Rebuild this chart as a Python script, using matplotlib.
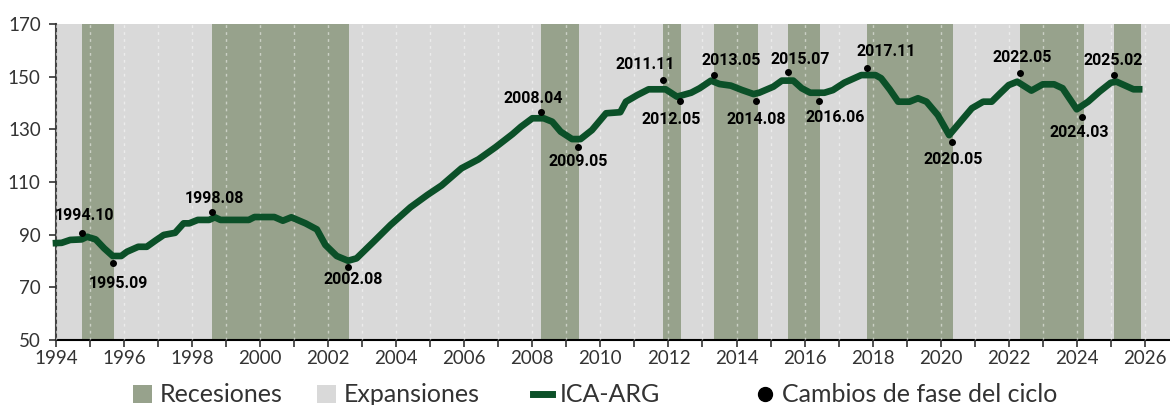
import numpy as np
import matplotlib.pyplot as plt
from matplotlib.patches import Patch
from matplotlib.lines import Line2D

# ICA-ARG (fecha AAAA-MM, nivel)
fechas = ["1994-01", "1994-03", "1994-06", "1994-10", "1994-12", "1995-03", "1995-06", "1995-09",
          "1995-12", "1996-02", "1996-06", "1996-09", "1996-12", "1997-03", "1997-07", "1997-10",
          "1997-12", "1998-03", "1998-07", "1998-09", "1998-11", "1999-06", "1999-09", "1999-11",
          "2000-06", "2000-09", "2000-12", "2001-05", "2001-09", "2001-12", "2002-04", "2002-08",
          "2002-11", "2003-05", "2003-11", "2004-06", "2004-12", "2005-05", "2005-12", "2006-06",
          "2006-12", "2007-06", "2007-09", "2008-01", "2008-05", "2008-08", "2008-11", "2009-03",
          "2009-06", "2009-10", "2010-03", "2010-08", "2010-10", "2011-02", "2011-06", "2011-12",
          "2012-04", "2012-09", "2012-12", "2013-04", "2013-07", "2013-11", "2014-03", "2014-07",
          "2014-09", "2015-02", "2015-05", "2015-09", "2015-12", "2016-03", "2016-08", "2016-11",
          "2017-03", "2017-09", "2018-02", "2018-04", "2018-07", "2018-10", "2019-02", "2019-05",
          "2019-08", "2019-12", "2020-04", "2020-09", "2020-12", "2021-04", "2021-07", "2021-10",
          "2022-01", "2022-04", "2022-09", "2023-01", "2023-05", "2023-08", "2023-10", "2024-01",
          "2024-05", "2024-09", "2025-01", "2025-03", "2025-09", "2025-11"]
ica = [86.8, 86.9, 88.0, 88.2, 89.2, 88.2, 84.8, 81.9,
       81.9, 83.5, 85.4, 85.4, 87.7, 89.9, 90.7, 94.3,
       94.3, 95.6, 95.6, 96.6, 95.6, 95.6, 95.6, 96.7,
       96.7, 95.3, 96.6, 94.3, 92.0, 86.1, 81.9, 80.1,
       81.0, 87.3, 93.7, 100.4, 105.1, 108.7, 115.2, 118.6,
       123.2, 128.2, 131.0, 134.2, 134.2, 132.9, 129.1, 126.3,
       126.3, 129.7, 136.1, 136.5, 140.5, 143.0, 145.2, 145.2,
       142.4, 143.9, 145.6, 148.5, 147.2, 146.6, 144.9, 143.4,
       143.9, 146.2, 148.5, 148.5, 145.6, 143.9, 143.9, 144.9,
       147.7, 150.6, 150.6, 149.4, 145.2, 140.5, 140.5, 141.8,
       140.5, 135.4, 127.8, 134.2, 138.0, 140.5, 140.5, 143.7,
       146.8, 148.1, 144.7, 147.1, 147.1, 145.6, 142.4, 137.6,
       140.5, 144.3, 147.7, 148.1, 145.2, 145.2]

# Cambios de fase del ciclo (picos y valles)
cambios = ["1994.10", "1995.09", "1998.08", "2002.08", "2008.04", "2009.05", "2011.11", "2012.05",
           "2013.05", "2014.08", "2015.07", "2016.06", "2017.11", "2020.05", "2022.05", "2024.03",
           "2025.02"]
nivel_cambio = [90.7, 79.3, 98.7, 77.8, 136.7, 123.4, 148.7, 140.8,
                150.6, 140.8, 151.9, 140.8, 153.2, 125.3, 151.5, 134.6,
                150.6]

# desplazamiento de cada etiqueta respecto del punto (px)
desp_etiqueta = [(3, 17), (6, -21), (2, 13), (5, -13), (-8, 13), (0, -15), (-18, 16), (-9, -19),
                 (17, 15), (0, -19), (13, 12), (16, -17), (19, 17), (1, -18), (2, 15), (-3, -15),
                 (0, 15)]

COL_REC = "#97a28c"
COL_EXP = "#d9d9d9"
COL_LINEA = "#0b5028"


def a_anio(s, sep):
    y, m = s.split(sep)
    return int(y) + (int(m) - 1) / 12


t = np.array([a_anio(f, "-") for f in fechas])
t_cambio = np.array([a_anio(c, ".") for c in cambios])

fig = plt.figure(figsize=(11.7, 4.05), dpi=100)
ax = fig.add_axes([56 / 1170, 1 - 340 / 405, 1 - 56 / 1170, 316 / 405])
ax.set_facecolor(COL_EXP)

# recesiones: de pico a valle; la última sigue abierta hasta el final de la serie
inicios = t_cambio[0::2]
finales = list(t_cambio[1::2] + 1 / 24) + [t[-1] + 1 / 24]
for a, b in zip(inicios, finales):
    ax.axvspan(a, b, color=COL_REC, lw=0, zorder=1)

ax.plot(t, ica, color=COL_LINEA, lw=4.8, solid_joinstyle="round", zorder=3, clip_on=False)
ax.plot(t_cambio, nivel_cambio, "o", color="black", ms=4, zorder=4)

for i, (tc, nv, txt) in enumerate(zip(t_cambio, nivel_cambio, cambios)):
    dx, dy = desp_etiqueta[i]
    ax.annotate(txt, (tc, nv), xytext=(dx, dy), textcoords="offset pixels",
                ha="center", va="center", fontsize=11.5, fontweight="bold",
                family="Roboto", color="black", zorder=5)

ax.set_xlim(1994, 2026.74)
ax.set_ylim(50, 170)
ax.set_yticks(np.arange(50, 171, 20))
ax.set_xticks(np.arange(1994, 2027, 2))
ax.set_xticks(np.arange(1994, 2027, 1), minor=True)
ax.grid(axis="x", which="both", color="white", alpha=0.5, ls=(0, (2, 3)), lw=1)
ax.set_axisbelow(False)

for s in ["top", "right"]:
    ax.spines[s].set_visible(False)
ax.spines["left"].set_color("#444444")
ax.spines["left"].set_linewidth(1.5)
ax.spines["bottom"].set_color("black")
ax.spines["bottom"].set_linewidth(1.5)
ax.tick_params(axis="both", which="both", direction="out", length=5, width=1.2,
               colors="#333333", labelsize=13.5)
ax.tick_params(axis="x", pad=2)
ax.tick_params(axis="y", pad=6)
for lab in ax.get_xticklabels() + ax.get_yticklabels():
    lab.set_family("Lato")

# leyenda, cada elemento por separado
items = [
    (Patch(facecolor=COL_REC, edgecolor="none"), "Recesiones", 133),
    (Patch(facecolor=COL_EXP, edgecolor="none"), "Expansiones", 317),
    (Line2D([], [], color=COL_LINEA, lw=5), "ICA-ARG", 533),
    (Line2D([], [], marker="o", color="black", ls="none", ms=10), "Cambios de fase del ciclo", 756),
]
for h, txt, xpx in items:
    fig.legend([h], [txt], loc="center left", bbox_to_anchor=(xpx / 1170, 1 - 395 / 405),
               frameon=False, borderpad=0, borderaxespad=0, handlelength=0.75,
               handleheight=0.75, handletextpad=0.3,
               prop={"family": "Lato", "size": 18}, labelcolor="#333333")

fig.savefig("out.png", dpi=100)
